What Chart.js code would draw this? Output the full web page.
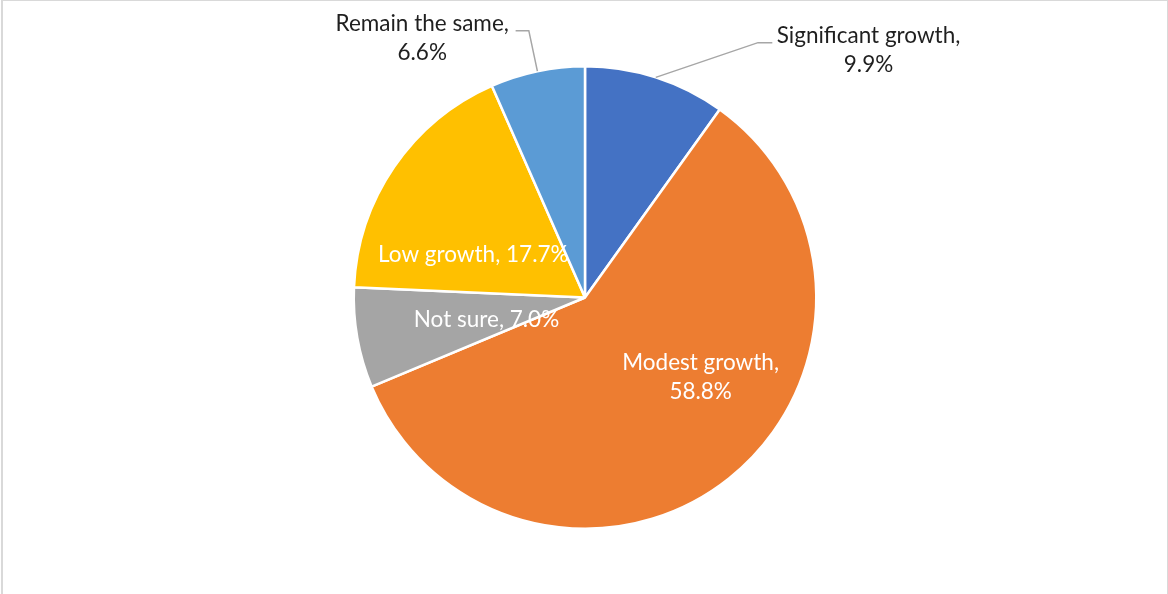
<!DOCTYPE html>
<html>
<head>
<meta charset="utf-8">
<script src="https://cdn.jsdelivr.net/npm/chart.js@4/dist/chart.umd.min.js"></script>
<style>
  html, body { margin: 0; padding: 0; background: #fff; overflow: hidden; }
  #marco {
    position: absolute; left: 1px; top: 0; width: 1164px; height: 700px;
    border-left: 2px solid #d9d9d9; border-top: 1px solid #d9d9d9; border-right: 1px solid #d9d9d9;
  }
  #grafico { position: absolute; left: 0; top: 0; }
</style>
</head>
<body>
<div id="marco"></div>
<canvas id="grafico" width="1168" height="594"></canvas>
<script>
const categorias = [
  "Significant growth",
  "Modest growth",
  "Not sure",
  "Low growth",
  "Remain the same",
];
const porcentajes = [9.9, 58.8, 7.0, 17.7, 6.6];
const colores = ["#4472c4", "#ed7d31", "#a5a5a5", "#ffc000", "#5b9bd5"];

// posición de cada etiqueta en unidades del radio, relativa al centro
const etiquetas = [
  { dx: 1.226, dy: -1.07, dosLineas: true, color: "#1f1f1f",
    guia: [[0.748, -1.102], [0.81, -1.102]] },
  { dx: 0.50, dy: 0.345, dosLineas: true, color: "#ffffff" },
  { dx: -0.426, dy: 0.098, dosLineas: false, color: "#ffffff" },
  { dx: -0.483, dy: -0.185, dosLineas: false, color: "#ffffff" },
  { dx: -0.704, dy: -1.12, dosLineas: true, color: "#1f1f1f",
    guia: [[-0.243, -1.154], [-0.30, -1.154]] },
];

const pluginEtiquetas = {
  id: "etiquetas",
  afterDatasetsDraw(chart) {
    const ctx = chart.ctx;
    const meta = chart.getDatasetMeta(0);
    ctx.save();
    ctx.font = "22.5px Lato";
    ctx.textAlign = "center";
    ctx.textBaseline = "middle";
    meta.data.forEach((arco, i) => {
      const cfg = etiquetas[i];
      const R = arco.outerRadius;
      const cx = arco.x;
      const cy = arco.y;

      if (cfg.guia) {
        const medio = (arco.startAngle + arco.endAngle) / 2;
        ctx.strokeStyle = "#a6a6a6";
        ctx.lineWidth = 1.5;
        ctx.beginPath();
        ctx.moveTo(cx + R * Math.cos(medio), cy + R * Math.sin(medio));
        cfg.guia.forEach(([gx, gy]) => ctx.lineTo(cx + gx * R, cy + gy * R));
        ctx.stroke();
      }

      const texto = `${categorias[i]}, ${porcentajes[i].toFixed(1)}%`;
      const lineas = cfg.dosLineas
        ? [`${categorias[i]},`, `${porcentajes[i].toFixed(1)}%`]
        : [texto];
      const alto = 29;
      const x = cx + cfg.dx * R;
      const y0 = cy + cfg.dy * R - ((lineas.length - 1) * alto) / 2;
      ctx.fillStyle = cfg.color;
      lineas.forEach((l, k) => ctx.fillText(l, x, y0 + k * alto));
    });
    ctx.restore();
  },
};

new Chart(document.getElementById("grafico"), {
  type: "pie",
  data: {
    labels: categorias,
    datasets: [
      {
        data: porcentajes,
        backgroundColor: colores,
        borderColor: "#ffffff",
        borderWidth: 2.5,
      },
    ],
  },
  options: {
    responsive: false,
    animation: false,
    layout: { padding: { top: 65, bottom: 64, left: 183, right: 181 } },
    plugins: {
      legend: { display: false },
      tooltip: { enabled: false },
      title: { display: false },
    },
  },
  plugins: [pluginEtiquetas],
});
</script>
</body>
</html>
